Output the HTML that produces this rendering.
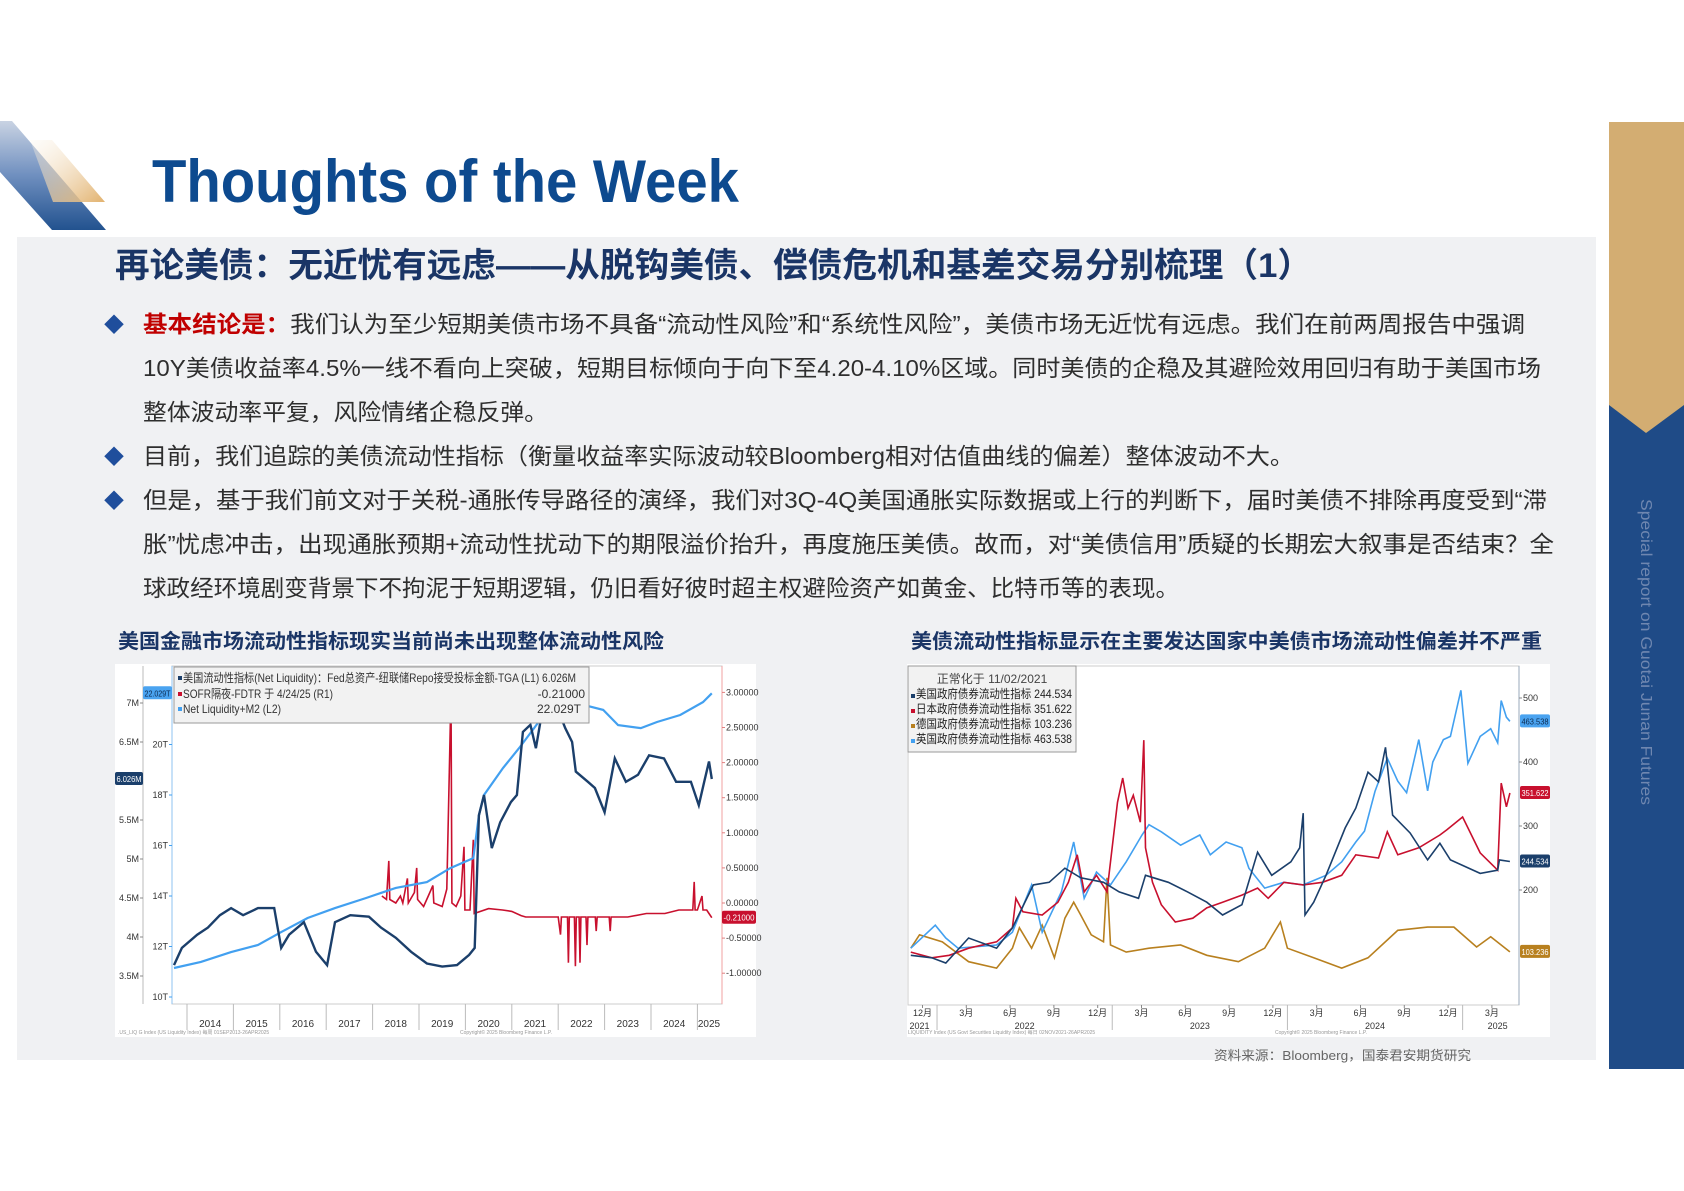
<!DOCTYPE html>
<html><head><meta charset="utf-8"><style>
html,body{margin:0;padding:0;background:#fff;}
#page{position:relative;width:1684px;height:1191px;overflow:hidden;background:#fff;font-family:"Liberation Sans","Noto Sans CJK SC",sans-serif;}
svg text{font-family:"Liberation Sans","Noto Sans CJK SC",sans-serif;}
</style></head><body>
<div id="page">
<svg id="main" width="1684" height="1191" viewBox="0 0 1684 1191" xmlns="http://www.w3.org/2000/svg">
<defs>
<linearGradient id="gNavy" x1="0" y1="0" x2="0" y2="1"><stop offset="0" stop-color="#c9d3e3"/><stop offset="0.5" stop-color="#6f8fbf"/><stop offset="1" stop-color="#22528f"/></linearGradient>
<linearGradient id="gGold" x1="0" y1="0" x2="1" y2="1"><stop offset="0" stop-color="#fbf6ee" stop-opacity="0.3"/><stop offset="1" stop-color="#e2b26e"/></linearGradient>
</defs>
<g>
<polygon points="0,121 12,121 106,230 52,230 0,172" fill="url(#gNavy)"/>
<polygon points="30,140 52,140 105,202 53,202" fill="url(#gGold)"/>
</g>
<text x="152" y="202" font-size="60" font-weight="bold" fill="#0d4a8f" textLength="587" lengthAdjust="spacingAndGlyphs">Thoughts of the Week</text>
<g>
<rect x="1609" y="122" width="75" height="947" fill="#1f4b87"/>
<polygon points="1609,122 1684,122 1684,405 1646,433 1609,405" fill="#d3ad72"/>
<text transform="translate(1641,499) rotate(90)" font-size="16" fill="#6f87b0" textLength="306" lengthAdjust="spacingAndGlyphs">Special report on Guotai Junan Futures</text>
</g>
<rect x="17" y="237" width="1579" height="823" fill="#f0f1f3"/>
<text x="115" y="277" font-size="34" font-weight="bold" fill="#1a3566" textLength="1197" lengthAdjust="spacingAndGlyphs">再论美债：无近忧有远虑——从脱钩美债、偿债危机和基差交易分别梳理（1）</text>
<g font-size="23" fill="#2e2e2e">
<text x="104" y="332" fill="#1f4e9c" font-size="20">◆</text>
<text x="104" y="464" fill="#1f4e9c" font-size="20">◆</text>
<text x="104" y="508" fill="#1f4e9c" font-size="20">◆</text>
<text x="143" y="332" textLength="1382" lengthAdjust="spacingAndGlyphs"><tspan fill="#c00000" font-weight="bold">基本结论是：</tspan>我们认为至少短期美债市场不具备“流动性风险”和“系统性风险”，美债市场无近忧有远虑。我们在前两周报告中强调</text>
<text x="143" y="376" textLength="1398" lengthAdjust="spacingAndGlyphs">10Y美债收益率4.5%一线不看向上突破，短期目标倾向于向下至4.20-4.10%区域。同时美债的企稳及其避险效用回归有助于美国市场</text>
<text x="143" y="420" textLength="405" lengthAdjust="spacingAndGlyphs">整体波动率平复，风险情绪企稳反弹。</text>
<text x="143" y="464" textLength="1151" lengthAdjust="spacingAndGlyphs">目前，我们追踪的美债流动性指标（衡量收益率实际波动较Bloomberg相对估值曲线的偏差）整体波动不大。</text>
<text x="143" y="508" textLength="1404" lengthAdjust="spacingAndGlyphs">但是，基于我们前文对于关税-通胀传导路径的演绎，我们对3Q-4Q美国通胀实际数据或上行的判断下，届时美债不排除再度受到“滞</text>
<text x="143" y="552" textLength="1411" lengthAdjust="spacingAndGlyphs">胀”忧虑冲击，出现通胀预期+流动性扰动下的期限溢价抬升，再度施压美债。故而，对“美债信用”质疑的长期宏大叙事是否结束？全</text>
<text x="143" y="596" textLength="1036" lengthAdjust="spacingAndGlyphs">球政经环境剧变背景下不拘泥于短期逻辑，仍旧看好彼时超主权避险资产如黄金、比特币等的表现。</text>
</g>
<text x="118" y="648" font-size="20" font-weight="bold" fill="#1a3566" textLength="546" lengthAdjust="spacingAndGlyphs">美国金融市场流动性指标现实当前尚未出现整体流动性风险</text>
<text x="911" y="648" font-size="20" font-weight="bold" fill="#1a3566" textLength="631" lengthAdjust="spacingAndGlyphs">美债流动性指标显示在主要发达国家中美债市场流动性偏差并不严重</text>
<text x="1214" y="1060" font-size="13" fill="#666" textLength="257" lengthAdjust="spacingAndGlyphs">资料来源：Bloomberg，国泰君安期货研究</text>

<g id="leftChart">
<rect x="115" y="664" width="641" height="373" fill="#fff"/>
<rect x="172" y="666" width="550" height="338" fill="none" stroke="#ccc" stroke-width="1"/>
<line x1="143" y1="666" x2="143" y2="1004" stroke="#bbb"/>
<line x1="172" y1="666" x2="172" y2="1004" stroke="#8fc3f2"/>
<line x1="722" y1="666" x2="722" y2="1004" stroke="#f0a0a0"/>
<g id="lAxes"></g>
<g id="lSeries"></g>
<g>
<rect x="174" y="667" width="415" height="56" fill="#f2f2f2" stroke="#999"/>
<rect x="178" y="676" width="4" height="4" fill="#1b3f6b"/>
<rect x="178" y="692" width="4" height="4" fill="#c8102e"/>
<rect x="178" y="707" width="4" height="4" fill="#42a0f0"/>
<text x="183" y="682" font-size="12" fill="#333" textLength="393" lengthAdjust="spacingAndGlyphs">美国流动性指标(Net Liquidity)：Fed总资产-纽联储Repo接受投标金额-TGA (L1) 6.026M</text>
<text x="183" y="698" font-size="12" fill="#333" textLength="150" lengthAdjust="spacingAndGlyphs">SOFR隔夜-FDTR  于 4/24/25 (R1)</text>
<text x="585" y="698" font-size="12" fill="#333" text-anchor="end">-0.21000</text>
<text x="183" y="713" font-size="12" fill="#333" textLength="98" lengthAdjust="spacingAndGlyphs">Net Liquidity+M2  (L2)</text>
<text x="581" y="713" font-size="12" fill="#333" text-anchor="end">22.029T</text>
</g>
<text x="118" y="1034" font-size="5" fill="#999">.US_LIQ G Index (US Liquidity Index) 每周 01SEP2013-26APR2025</text>
<text x="460" y="1034" font-size="5" fill="#999">Copyright© 2025 Bloomberg Finance L.P.</text>
</g>

<g id="rightChart">
<rect x="907" y="664" width="643" height="373" fill="#fff"/>
<rect x="908" y="666" width="611" height="339" fill="none" stroke="#ccc"/>
<line x1="1519" y1="666" x2="1519" y2="1005" stroke="#9ab"/>
<g id="rAxes"></g>
<g id="rSeries"></g>
<g>
<rect x="908" y="666" width="168" height="86" fill="#f2f2f2" stroke="#999"/>
<text x="992" y="683" font-size="12" fill="#444" text-anchor="middle">正常化于 11/02/2021</text>
<rect x="911" y="694" width="4" height="4" fill="#1b3f6b"/>
<rect x="911" y="709" width="4" height="4" fill="#c8102e"/>
<rect x="911" y="724" width="4" height="4" fill="#b8801f"/>
<rect x="911" y="739" width="4" height="4" fill="#42a0f0"/>
<text x="916" y="698" font-size="12" fill="#222" textLength="156" lengthAdjust="spacingAndGlyphs">美国政府债券流动性指标 244.534</text>
<text x="916" y="713" font-size="12" fill="#222" textLength="156" lengthAdjust="spacingAndGlyphs">日本政府债券流动性指标 351.622</text>
<text x="916" y="728" font-size="12" fill="#222" textLength="156" lengthAdjust="spacingAndGlyphs">德国政府债券流动性指标 103.236</text>
<text x="916" y="743" font-size="12" fill="#222" textLength="156" lengthAdjust="spacingAndGlyphs">英国政府债券流动性指标 463.538</text>
</g>
<text x="908" y="1034" font-size="5" fill="#999">LIQUIDITY Index (US Govt Securities Liquidity Index) 每日 02NOV2021-26APR2025</text>
<text x="1275" y="1034" font-size="5" fill="#999">Copyright© 2025 Bloomberg Finance L.P.</text>
</g>
</svg>
</div>
<script>
const netLiqDates = [2013.72,2013.89,2014.22,2014.45,2014.71,2014.95,2015.21,2015.53,2015.88,2016.03,2016.2,2016.52,2016.78,2017.02,2017.19,2017.52,2017.92,2018.18,2018.5,2018.83,2019.17,2019.5,2019.82,2020.08,2020.2,2020.29,2020.4,2020.57,2020.75,2020.98,2021.11,2021.24,2021.4,2021.52,2021.65,2021.8,2022.02,2022.15,2022.3,2022.38,2022.64,2022.79,2023.0,2023.22,2023.46,2023.72,2023.96,2024.28,2024.54,2024.86,2025.03,2025.15,2025.25,2025.31];
const netLiqValues = [3.64,3.86,4.03,4.12,4.28,4.37,4.28,4.37,4.37,3.86,4.03,4.19,3.81,3.64,4.19,4.28,4.26,4.12,3.99,3.81,3.66,3.62,3.64,3.77,3.86,5.56,5.82,5.14,5.47,5.73,5.82,6.63,6.72,6.42,6.88,7.06,6.88,6.68,6.50,6.12,5.99,5.91,5.60,6.29,5.99,6.08,6.33,6.29,5.99,5.99,5.69,6.0,6.25,6.026];
const m2Dates = [2013.72,2014.3,2014.95,2015.53,2016.03,2016.6,2017.19,2017.86,2018.5,2019.17,2019.67,2020.17,2020.29,2020.4,2020.81,2021.16,2021.48,2021.8,2022.15,2022.56,2022.97,2023.29,2023.78,2024.13,2024.63,2025.12,2025.31];
const m2Values = [11.15,11.39,11.78,12.06,12.57,13.13,13.52,13.92,14.32,14.55,15.1,15.5,17.2,18.0,19.07,19.86,20.65,21.45,21.76,21.56,21.37,20.77,20.65,20.89,21.17,21.68,22.029];
const sofrDates = [2018.2,2018.3,2018.35,2018.37,2018.5,2018.6,2018.65,2018.75,2018.77,2018.9,2018.95,2018.97,2019.1,2019.2,2019.3,2019.32,2019.5,2019.6,2019.69,2019.71,2019.8,2019.9,2019.97,2019.99,2020.1,2020.17,2020.19,2020.5,2020.8,2021.0,2021.2,2021.3,2021.9,2022.0,2022.05,2022.07,2022.2,2022.22,2022.24,2022.35,2022.37,2022.39,2022.45,2022.47,2022.49,2022.6,2022.62,2022.64,2022.8,2022.82,2022.84,2023.1,2023.12,2023.14,2023.5,2023.9,2024.3,2024.6,2024.9,2024.93,2024.95,2025.0,2025.1,2025.12,2025.2,2025.25,2025.31];
const sofrValues = [0.1,0.05,0.6,0.05,0.0,0.1,0.0,0.35,0.0,0.15,0.5,0.05,-0.05,0.1,0.25,0.0,-0.05,0.2,3.0,0.0,-0.05,0.1,0.8,-0.1,-0.1,0.9,-0.15,-0.08,-0.1,-0.12,-0.18,-0.2,-0.2,-0.2,-0.45,-0.2,-0.2,-0.85,-0.2,-0.2,-0.9,-0.2,-0.2,-0.85,-0.2,-0.2,-0.6,-0.2,-0.2,-0.4,-0.2,-0.2,-0.4,-0.2,-0.2,-0.15,-0.15,-0.1,-0.1,0.3,-0.1,-0.1,0.1,-0.1,-0.1,-0.15,-0.21];
const l1Ticks = [3.5,4,4.5,5,5.5,6.5,7];
const l1Labels = ["3.5M","4M","4.5M","5M","5.5M","6.5M","7M"];
const l2Ticks = [10,12,14,16,18,20];
const l2Labels = ["10T","12T","14T","16T","18T","20T"];
const r1Ticks = [-1,-0.5,0,0.5,1,1.5,2,2.5,3];
const r1Labels = ["-1.00000","-0.50000","0.00000","0.50000","1.00000","1.50000","2.00000","2.50000","3.00000"];
const leftYears = [2014,2015,2016,2017,2018,2019,2020,2021,2022,2023,2024,2025];

const usDates = [2021.85,2021.97,2022.05,2022.18,2022.34,2022.43,2022.55,2022.64,2022.73,2022.82,2022.95,2023.04,2023.15,2023.19,2023.32,2023.43,2023.54,2023.63,2023.74,2023.83,2023.91,2024.02,2024.07,2024.09,2024.10,2024.15,2024.22,2024.33,2024.39,2024.46,2024.52,2024.56,2024.60,2024.70,2024.80,2024.87,2024.93,2025.10,2025.20,2025.21,2025.27];
const usValues = [98,94,86,125,109,141,208,212,234,219,212,197,187,223,212,197,181,161,177,259,223,244,266,320,161,181,223,297,328,384,369,423,317,289,247,273,247,226,231,247,244.534];
const jpDates = [2021.85,2021.97,2022.07,2022.18,2022.34,2022.43,2022.45,2022.49,2022.60,2022.69,2022.75,2022.80,2022.84,2022.91,2022.97,2022.99,2023.03,2023.06,2023.09,2023.12,2023.16,2023.18,2023.19,2023.23,2023.28,2023.36,2023.46,2023.54,2023.63,2023.74,2023.83,2023.89,2023.98,2024.09,2024.20,2024.31,2024.39,2024.52,2024.57,2024.63,2024.75,2024.87,2024.91,2025.00,2025.10,2025.20,2025.22,2025.25,2025.27];
const jpValues = [103,94,98,109,119,141,187,166,161,181,212,255,197,223,197,244,337,375,328,348,306,434,266,212,177,150,156,172,181,192,203,187,212,208,212,223,255,250,291,255,266,286,294,314,258,231,367,330,351.622];
const deDates = [2021.85,2021.90,2022.03,2022.18,2022.34,2022.43,2022.47,2022.54,2022.60,2022.67,2022.73,2022.78,2022.82,2022.88,2022.95,2022.97,2022.99,2023.08,2023.21,2023.39,2023.54,2023.72,2023.87,2023.96,2024.00,2024.15,2024.31,2024.46,2024.63,2024.80,2024.95,2025.08,2025.16,2025.27];
const deValues = [109,130,119,88,78,109,141,109,145,94,156,181,161,130,119,219,114,103,109,114,98,88,109,150,109,94,78,94,137,142,142,111,127,103.236];
const ukDates = [2021.85,2021.99,2022.05,2022.12,2022.34,2022.43,2022.54,2022.60,2022.71,2022.78,2022.84,2022.91,2022.99,2023.08,2023.17,2023.21,2023.28,2023.39,2023.50,2023.56,2023.65,2023.74,2023.78,2023.87,2023.98,2024.09,2024.22,2024.31,2024.39,2024.44,2024.50,2024.57,2024.63,2024.68,2024.75,2024.80,2024.83,2024.89,2024.93,2024.99,2025.03,2025.10,2025.16,2025.20,2025.22,2025.25,2025.27];
const ukValues = [109,145,125,109,114,134,208,134,197,275,187,228,208,244,286,302,291,270,286,255,275,266,234,203,212,208,223,244,275,292,354,406,370,352,435,355,400,435,440,512,398,440,452,430,496,470,463.538];
const rTicks = [200,300,400,500];
const monthTicks = [2021.917,2022.167,2022.417,2022.667,2022.917,2023.167,2023.417,2023.667,2023.917,2024.167,2024.417,2024.667,2024.917,2025.167];
const monthLabels = ["12月","3月","6月","9月","12月","3月","6月","9月","12月","3月","6月","9月","12月","3月"];
const yearLabelPos = [2021.9,2022.5,2023.5,2024.5,2025.2];
const yearLabels = ["2021","2022","2023","2024","2025"];
const yearBounds = [2022,2023,2024,2025];

const NS = "http://www.w3.org/2000/svg";
function mk(tag, attrs, parent, txt){ const e=document.createElementNS(NS,tag); for(const k in attrs) e.setAttribute(k,attrs[k]); if(txt!==undefined) e.textContent=txt; parent.appendChild(e); return e; }

const xL = t => 187 + (t-2014)*46.4;
const yL1 = v => 976 - (v-3.5)*78;
const yL2 = v => 997 - (v-10)*25.25;
const yR1 = v => 903 - v*70.2;
const xR = t => 909 + (t-2021.84)*175.2;
const yR = v => 698 + (500-v)*0.64;

function linePath(dates, vals, fx, fy){ return dates.map((d,i)=>(i?"L":"M")+fx(d).toFixed(1)+","+fy(vals[i]).toFixed(1)).join(""); }

const lAx = document.getElementById("lAxes");
l1Ticks.forEach((v,i)=>{
  mk("line",{x1:140,y1:yL1(v),x2:143,y2:yL1(v),stroke:"#888"},lAx);
  const t=mk("text",{x:139,y:yL1(v)+3,"font-size":9,fill:"#333","text-anchor":"end"},lAx,l1Labels[i]);
  
  
});
l2Ticks.forEach((v,i)=>{
  mk("line",{x1:169,y1:yL2(v),x2:172,y2:yL2(v),stroke:"#42a0f0"},lAx);
  const t=mk("text",{x:168,y:yL2(v)+3,"font-size":9,fill:"#333","text-anchor":"end"},lAx,l2Labels[i]);
  
  
});
r1Ticks.forEach((v,i)=>{
  mk("line",{x1:722,y1:yR1(v),x2:725,y2:yR1(v),stroke:"#e08080"},lAx);
  const t=mk("text",{x:726,y:yR1(v)+3,"font-size":9,fill:"#333"},lAx,r1Labels[i]);
  
  
});
leftYears.forEach(y=>{
  mk("line",{x1:xL(y),y1:1004,x2:xL(y),y2:1030,stroke:"#bbb"},lAx);
  if(xL(y+0.5)<722){ const t=mk("text",{x:Math.min(xL(y+0.5),709),y:1027,"font-size":10,fill:"#333","text-anchor":"middle"},lAx,String(y));
  
   }
});
const lS = document.getElementById("lSeries");
let p;
p=mk("path",{d:linePath(sofrDates,sofrValues,xL,yR1),fill:"none",stroke:"#c8102e","stroke-width":1.6},lS);


p=mk("path",{d:linePath(m2Dates,m2Values,xL,yL2),fill:"none",stroke:"#42a0f0","stroke-width":2.2},lS);


p=mk("path",{d:linePath(netLiqDates,netLiqValues,xL,yL1),fill:"none",stroke:"#1b3f6b","stroke-width":2.4},lS);


function tag(parent,x,y,w,fill,color,txt,name){
  const g=mk("g",{},parent);
  
  
  mk("rect",{x:x,y:y-7,width:w,height:13,fill:fill,rx:2},g);
  mk("text",{x:x+1.5,y:y+3,"font-size":8,fill:color,textLength:w-3,lengthAdjust:"spacingAndGlyphs"},g,txt);
}
tag(lAx,143,yL2(m2Values[m2Values.length-1]),29,"#4aa3f0","#0b2a50","22.029T","m2-last-value-tag");
tag(lAx,115,yL1(netLiqValues[netLiqValues.length-1]),28,"#1b3f6b","#fff","6.026M","net-liquidity-last-value-tag");
tag(lAx,722,yR1(sofrValues[sofrValues.length-1]),34,"#c8102e","#fff","-0.21000","sofr-last-value-tag");

const rAx = document.getElementById("rAxes");
rTicks.forEach(v=>{
  mk("line",{x1:1519,y1:yR(v),x2:1522,y2:yR(v),stroke:"#888"},rAx);
  const t=mk("text",{x:1523,y:yR(v)+3,"font-size":9,fill:"#333"},rAx,String(v));
  
  
});
monthTicks.forEach((m,i)=>{
  mk("line",{x1:xR(m),y1:1005,x2:xR(m),y2:1008,stroke:"#888"},rAx);
  const t=mk("text",{x:xR(m),y:1016,"font-size":9,fill:"#333","text-anchor":"middle"},rAx,monthLabels[i]);
  
  
});
yearBounds.forEach(y=>{ mk("line",{x1:xR(y),y1:1005,x2:xR(y),y2:1030,stroke:"#bbb"},rAx); });
yearLabelPos.forEach((y,i)=>{
  const t=mk("text",{x:xR(y),y:1029,"font-size":9,fill:"#333","text-anchor":"middle"},rAx,yearLabels[i]);
  
  
});
const rS = document.getElementById("rSeries");
p=mk("path",{d:linePath(deDates,deValues,xR,yR),fill:"none",stroke:"#b8801f","stroke-width":1.6},rS);


p=mk("path",{d:linePath(ukDates,ukValues,xR,yR),fill:"none",stroke:"#42a0f0","stroke-width":1.6},rS);


p=mk("path",{d:linePath(jpDates,jpValues,xR,yR),fill:"none",stroke:"#c8102e","stroke-width":1.6},rS);


p=mk("path",{d:linePath(usDates,usValues,xR,yR),fill:"none",stroke:"#1b3f6b","stroke-width":1.6},rS);


tag(rAx,1520,yR(ukValues[ukValues.length-1]),30,"#4aa3f0","#0b2a50","463.538","uk-last-value-tag");
tag(rAx,1520,yR(jpValues[jpValues.length-1]),30,"#c8102e","#fff","351.622","japan-last-value-tag");
tag(rAx,1520,yR(usValues[usValues.length-1]),30,"#1b3f6b","#fff","244.534","us-last-value-tag");
tag(rAx,1520,yR(deValues[deValues.length-1]),30,"#b8801f","#fff","103.236","germany-last-value-tag");
</script>
</body></html>
